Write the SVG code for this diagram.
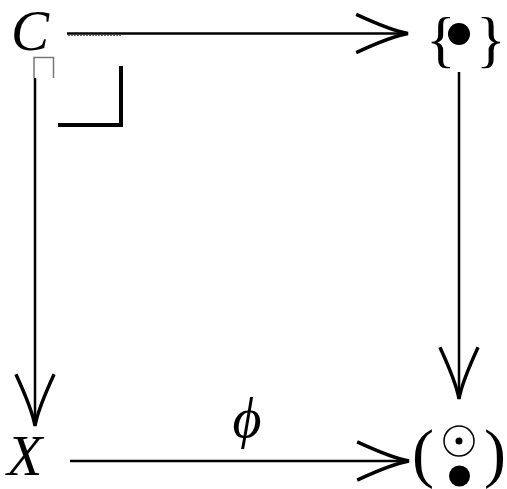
<svg xmlns="http://www.w3.org/2000/svg" width="507" height="489" viewBox="0 0 507 489">
<style>
.lbl{font-family:"Liberation Serif","DejaVu Serif",serif;fill:#000}
.it{font-style:italic}
.edge{stroke:#000;stroke-width:2.5;fill:none}
</style>
<defs>
<marker id="ah" markerUnits="userSpaceOnUse" markerWidth="60" markerHeight="60" viewBox="-40 -20 44 40" refX="0" refY="0" orient="auto">
<path d="M-38,-14 Q-12,-2 0,0 Q-12,2 -38,14" stroke="#000" stroke-width="2.5" fill="none"/>
</marker>
</defs>
<rect width="507" height="489" fill="#fff"/>
<g id="edges">
<line class="edge" x1="67" y1="33.5" x2="408" y2="33.5" marker-end="url(#ah)"/>
<line x1="68" y1="35.5" x2="122" y2="35.5" stroke="#666" stroke-width="1" stroke-dasharray="2,1"/>
<line class="edge" x1="35" y1="78" x2="35" y2="426" marker-end="url(#ah)"/>
<line class="edge" x1="459" y1="72" x2="459" y2="399" marker-end="url(#ah)"/>
<line class="edge" x1="70" y1="461" x2="409" y2="461" marker-end="url(#ah)"/>
<path d="M34,78 V57.5 H53.5 V78" stroke="#777" stroke-width="1.5" fill="none"/>
<path d="M58,125 H121 V66" stroke="#000" stroke-width="4" fill="none"/>
<text class="lbl it" x="247" y="437" font-size="56" text-anchor="middle">ϕ</text>
</g>
<g id="nodeC"><text class="lbl it" x="11" y="50" font-size="57">C</text></g>
<g id="nodePt">
<text class="lbl" x="426" y="60" font-size="62">{</text>
<circle cx="459" cy="34" r="11"/>
<text class="lbl" x="476" y="60" font-size="62">}</text>
</g>
<g id="nodeX"><text class="lbl it" x="7" y="475" font-size="58">X</text></g>
<g id="nodeY">
<text class="lbl" x="412" y="475" font-size="66">(</text>
<circle cx="459" cy="441" r="15" fill="none" stroke="#000" stroke-width="1.5"/>
<circle cx="459" cy="441" r="3.5"/>
<circle cx="459.5" cy="476" r="10.5"/>
<text class="lbl" x="484" y="475" font-size="66">)</text>
</g>
</svg>
